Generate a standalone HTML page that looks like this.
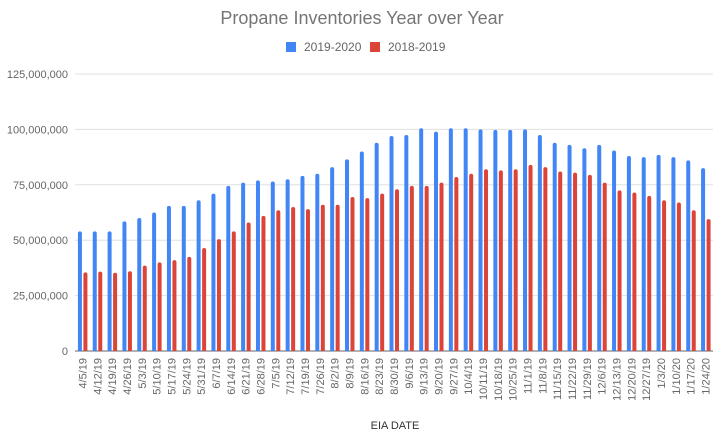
<!DOCTYPE html>
<html><head><meta charset="utf-8"><style>
body{margin:0;background:#fff;}
svg{display:block;font-family:"Liberation Sans",Arial,sans-serif;}
</style></head><body>
<svg id="chart" width="719" height="439">
<text x="362" y="24" text-anchor="middle" font-size="18" fill="#757575">Propane Inventories Year over Year</text>
<g>
<rect x="286" y="42" width="10" height="10" fill="#4285f4"/>
<text x="304" y="51" font-size="12" fill="#666">2019-2020</text>
<rect x="370" y="42" width="10" height="10" fill="#db4437"/>
<text x="388" y="51" font-size="12" fill="#666">2018-2019</text>
</g>
<text x="395" y="429" text-anchor="middle" font-size="11" fill="#333">EIA DATE</text>
<g id="grid"></g><g id="bars"></g><g id="xl"></g>
</svg>
<script>
const categories=["4/5/19","4/12/19","4/19/19","4/26/19","5/3/19","5/10/19","5/17/19","5/24/19","5/31/19","6/7/19","6/14/19","6/21/19","6/28/19","7/5/19","7/12/19","7/19/19","7/26/19","8/2/19","8/9/19","8/16/19","8/23/19","8/30/19","9/6/19","9/13/19","9/20/19","9/27/19","10/4/19","10/11/19","10/18/19","10/25/19","11/1/19","11/8/19","11/15/19","11/22/19","11/29/19","12/6/19","12/13/19","12/20/19","12/27/19","1/3/20","1/10/20","1/17/20","1/24/20"];
const series2019=[54,54,54,58.5,60,62.5,65.5,65.5,68,71,74.5,76,77,76.5,77.5,79,80,83,86.5,90,94,97,97.5,100.5,99,100.5,100.5,100,99.8,99.8,100,97.5,94,93,91.5,93,90.5,88,87.5,88.5,87.5,86,82.5];
const series2018=[35.5,35.8,35.3,36,38.5,40,41,42.5,46.5,50.5,54,58,61,63.5,65,64,66,66,69.5,69,71,73,74.5,74.5,76,78.5,80,82,81.5,82,84,83,81,80.5,79.5,76,72.5,71.5,70,68,67,63.5,59.5];
const yTicks=[0,25,50,75,100,125];
const yTickLabels=["0","25,000,000","50,000,000","75,000,000","100,000,000","125,000,000"];
const NS="http://www.w3.org/2000/svg";
const L=75,R=713,T=74,B=351,yMax=125;
const y=v=>B-(v/yMax)*(B-T);
const step=(R-L)/categories.length;
const cx=i=>L+step*(i+0.5);
function mk(tag,attrs,parent){const e=document.createElementNS(NS,tag);for(const k in attrs)e.setAttribute(k,attrs[k]);parent.appendChild(e);return e;}
const grid=document.getElementById('grid'),bars=document.getElementById('bars'),xl=document.getElementById('xl');
yTicks.forEach((t,i)=>{
 const l=mk('line',{x1:L,x2:R,y1:y(t),y2:y(t),stroke:t===0?'#999':'#e0e0e0','stroke-width':t===0?1.5:1},grid);
 
 
 const tx=mk('text',{x:68,y:y(t)+4,'text-anchor':'end','font-size':11,fill:'#666'},grid);
 tx.textContent=yTickLabels[i];
 
 
});
function bar(x,v,color,name){
 const w=4,top=y(v);
 const p=mk('path',{d:`M${x},${B} V${top+2} Q${x},${top} ${x+2},${top} Q${x+w},${top} ${x+w},${top+2} V${B} Z`,fill:color},bars);
 
 
}
categories.forEach((c,i)=>{
 bar(cx(i)-4.5,series2019[i],'#4285f4','bar-2019-2020');
 bar(cx(i)+1,series2018[i],'#db4437','bar-2018-2019');
 const t=mk('text',{x:0,y:0,'text-anchor':'end','font-size':11,fill:'#666',transform:`translate(${cx(i)+4},358) rotate(-90)`},xl);
 t.textContent=c;
 
 
});
</script>
</body></html>
